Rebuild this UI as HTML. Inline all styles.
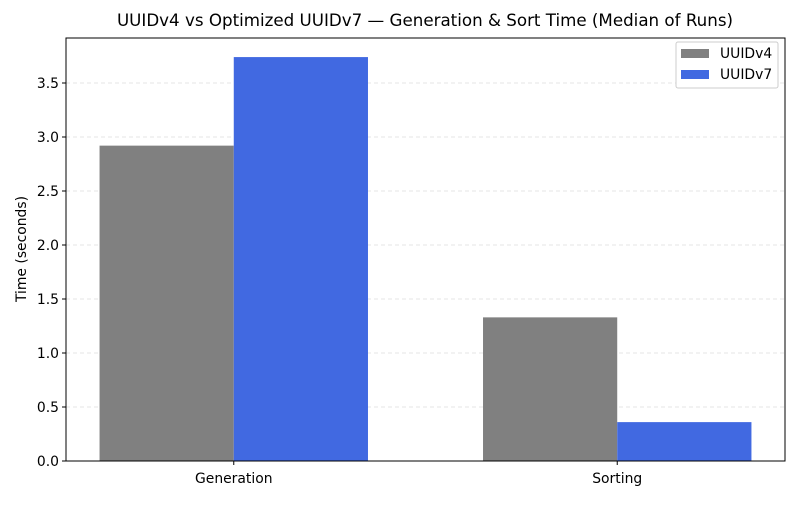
<!DOCTYPE html>
<html><head><meta charset="utf-8"><style>
body{margin:0;background:#fff;}
svg{font-family:"DejaVu Sans","Liberation Sans",sans-serif;}
</style></head><body>
<svg id="chart" width="800" height="500" viewBox="0 0 800 500">
<rect x="0" y="0" width="800" height="500" fill="#fff"/>
<text x="425" y="26" text-anchor="middle" font-size="16.7" fill="#000">UUIDv4 vs Optimized UUIDv7 — Generation &amp; Sort Time (Median of Runs)</text>
<g id="grid"></g>
<g id="bars"></g>
<g id="axes"></g>
<text transform="translate(26,249) rotate(-90)" text-anchor="middle" font-size="13.9">Time (seconds)</text>
<g>
<rect x="676" y="42" width="102" height="46" fill="#fff" stroke="#ccc" rx="2"/>
<rect x="681" y="49" width="28" height="9" fill="#808080"/>
<text x="720" y="58" font-size="13.9">UUIDv4</text>
<rect x="681" y="70" width="28" height="9" fill="#4169e1"/>
<text x="720" y="79" font-size="13.9">UUIDv7</text>
</g>
</svg>
<script>
const categories=["Generation","Sorting"];
const uuidv4=[2.92,1.33];
const uuidv7=[3.74,0.36];
const yTicks=[0,0.5,1.0,1.5,2.0,2.5,3.0,3.5];
const NS="http://www.w3.org/2000/svg";
const L=66,R=785,T=38,B=461,yMax=(B-T)/108;
const y=v=>B-v/yMax*(B-T);
const xMin=-0.4375,xMax=1.4375;
const x=v=>L+(v-xMin)/(xMax-xMin)*(R-L);
const xc=i=>x(i);
const bw=x(0.35)-x(0);
function mk(tag,attrs,parent,text){const e=document.createElementNS(NS,tag);for(const k in attrs)e.setAttribute(k,attrs[k]);if(text!==undefined)e.textContent=text;document.getElementById(parent).appendChild(e);return e;}
yTicks.forEach(t=>{
 const g=mk('line',{x1:L,x2:R,y1:y(t),y2:y(t),stroke:'#ddd','stroke-dasharray':'4,3','stroke-width':0.8},'grid');
 
 
 const tk=mk('line',{x1:L-4,x2:L,y1:y(t),y2:y(t),stroke:'#000'},'axes');
 
 
 const lb=mk('text',{x:L-7,y:y(t)+5,'text-anchor':'end','font-size':13.9},'axes',t.toFixed(1));
 
 
});
categories.forEach((c,i)=>{
 const cx=xc(i);
 const b1=mk('rect',{x:cx-bw,y:y(uuidv4[i]),width:bw,height:B-y(uuidv4[i]),fill:'#808080'},'bars');
 
 
 const b2=mk('rect',{x:cx,y:y(uuidv7[i]),width:bw,height:B-y(uuidv7[i]),fill:'#4169e1'},'bars');
 
 
 const tk=mk('line',{x1:cx,x2:cx,y1:B,y2:B+4,stroke:'#000'},'axes');
 
 
 const lb=mk('text',{x:cx,y:B+22,'text-anchor':'middle','font-size':13.9},'axes',c);
 
 
});
const fr=mk('rect',{x:L,y:T,width:R-L,height:B-T,fill:'none',stroke:'#000','stroke-width':1},'axes');


</script>
</body></html>
